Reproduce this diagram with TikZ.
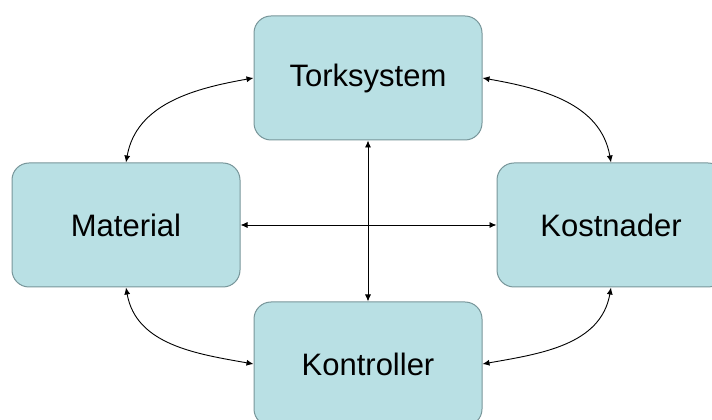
\documentclass[tikz,border=0pt]{standalone}
\usepackage{fontspec}
\setmainfont{Liberation Sans}
\usetikzlibrary{arrows.meta}
\definecolor{boxfill}{RGB}{185,224,228}
\definecolor{boxdraw}{RGB}{120,150,154}
\tikzset{
  box/.style={draw=boxdraw, line width=1pt, fill=boxfill, rounded corners=17pt,
    minimum width=228pt, minimum height=124pt, inner sep=0pt,
    font=\fontsize{31}{37}\selectfont},
  arr/.style={line width=0.9pt, {Latex[length=7pt,width=6pt]}-{Latex[length=7pt,width=6pt]}}
}
\begin{document}
\begin{tikzpicture}[x=1pt,y=1pt]
\useasboundingbox (0,0) rectangle (712,420);
\begin{scope}
\clip (0,0) rectangle (712,420);
\node[box] (tork) at (368,342) {Torksystem};
\node[box] (mat) at (126,195) {Material};
\node[box] (kost) at (611,195) {Kostnader};
\node[box] (kontr) at (368,56) {Kontroller};
\draw[arr] (mat.north) to[out=80,in=190] (tork.west);
\draw[arr] (kost.north) to[out=100,in=-10] (tork.east);
\draw[arr] (mat.south) to[out=-80,in=170] (kontr.west);
\draw[arr] (kost.south) to[out=-100,in=10] (kontr.east);
\draw[arr] (tork.south) -- (kontr.north);
\draw[arr] (mat.east) -- (kost.west);
\end{scope}
\end{tikzpicture}
\end{document}
